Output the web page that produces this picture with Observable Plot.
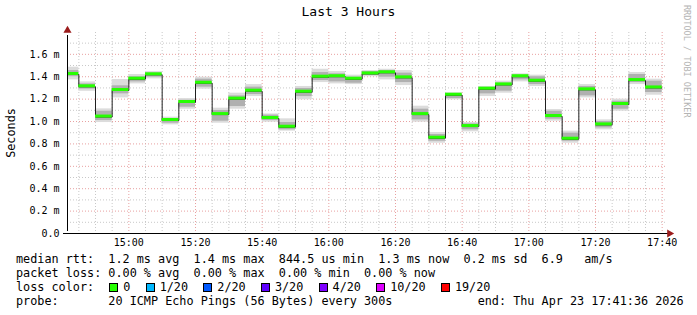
<!DOCTYPE html>
<html>
<head>
<meta charset="utf-8">
<script src="https://cdn.jsdelivr.net/npm/d3@7"></script>
<script src="https://cdn.jsdelivr.net/npm/@observablehq/plot@0.6"></script>
<style>
  html, body { margin: 0; padding: 0; background: #fff; }
  #wrap { position: relative; width: 697px; height: 315px; font-family: "DejaVu Sans Mono", monospace; color: #000; overflow: hidden; }
  #title { position: absolute; left: 0; top: 4px; width: 697px; text-align: center; font-size: 13px; line-height: 16px; }
  #chart { position: absolute; left: 0; top: 0; }
  #ylabel { position: absolute; left: 11px; top: 133px; font-size: 11.8px; transform: translate(-50%, -50%) rotate(-90deg); white-space: pre; }
  #credit { position: absolute; left: 682px; top: 5px; font-size: 8.5px; color: #b4b4b4; writing-mode: vertical-rl; white-space: pre; }
  #legend { position: absolute; left: 16px; top: 252px; font-size: 11.8px; line-height: 14px; white-space: pre; }
  .sq { display: inline-block; width: 7px; height: 7px; border: 1px solid #000; margin-left: 1px; margin-right: 5px; vertical-align: -1px; }
</style>
</head>
<body>
<div id="wrap">
  <div id="title"></div>
  <div id="chart"></div>
  <div id="ylabel"></div>
  <div id="credit"></div>
  <div id="legend"></div>
</div>
<script>
// ---- data ----
const titleText = "Last 3 Hours";
const yLabel = "Seconds";
const creditText = "RRDTOOL / TOBI OETIKER";
const day = [2026, 3, 23];            // Thu Apr 23 2026
const windowStart = "14:41:36";
const windowEnd = "17:41:36";
const stepStarts = ["14:40","14:45","14:50","14:55","15:00","15:05","15:10","15:15","15:20","15:25","15:30","15:35",
                    "15:40","15:45","15:50","15:55","16:00","16:05","16:10","16:15","16:20","16:25","16:30","16:35",
                    "16:40","16:45","16:50","16:55","17:00","17:05","17:10","17:15","17:20","17:25","17:30","17:35"];
const lastStepEnd = "17:40";
// median rtt (ms)
const median  = [1.42,1.31,1.04,1.277,1.378,1.417,1.009,1.17,1.342,1.062,1.20,1.271,
                 1.027,0.949,1.262,1.396,1.40,1.378,1.425,1.435,1.39,1.062,0.851,1.235,
                 0.955,1.289,1.327,1.40,1.36,1.045,0.842,1.283,0.97,1.152,1.366,1.30];
// smoke: outer extent (lightest) and inner extent (darker)
const outerHi = [1.485,1.354,1.113,1.375,1.42,1.446,1.039,1.205,1.396,1.119,1.253,1.33,
                 1.068,1.024,1.313,1.467,1.446,1.414,1.455,1.467,1.455,1.137,0.902,1.256,
                 0.991,1.313,1.36,1.426,1.414,1.107,0.914,1.33,1.015,1.20,1.438,1.378];
const outerLo = [1.372,1.27,0.991,1.211,1.336,1.381,0.97,1.11,1.289,0.985,1.11,1.223,
                 0.994,0.914,1.194,1.348,1.336,1.33,1.40,1.372,1.321,0.994,0.806,1.194,
                 0.908,1.223,1.253,1.354,1.313,1.003,0.806,1.211,0.926,1.092,1.33,1.235];
const innerHi = [1.455,1.336,1.092,1.319,1.40,1.434,1.027,1.19,1.378,1.098,1.229,1.307,
                 1.057,0.991,1.295,1.437,1.426,1.396,1.446,1.455,1.432,1.11,0.884,1.247,
                 0.979,1.301,1.342,1.414,1.40,1.092,0.896,1.313,1.0,1.181,1.42,1.36];
const innerLo = [1.40,1.29,1.009,1.247,1.354,1.396,0.985,1.128,1.307,1.003,1.134,1.241,
                 1.009,0.926,1.223,1.366,1.354,1.342,1.411,1.396,1.348,1.015,0.824,1.205,
                 0.926,1.247,1.271,1.372,1.33,1.021,0.824,1.229,0.943,1.11,1.348,1.259];
const yTicks = [0, 0.2, 0.4, 0.6, 0.8, 1.0, 1.2, 1.4, 1.6];
const yMinorGrid = [0.1, 0.3, 0.5, 0.7, 0.9, 1.1, 1.3, 1.5, 1.7];
const yMax = 1.795;
const lossNames  = ["0", "1/20", "2/20", "3/20", "4/20", "10/20", "19/20"];
const lossColors = ["#26ff00", "#00b8ff", "#0059ff", "#5e00ff", "#7e00ff", "#dd00ff", "#ff0000"];
const statsLine  = "median rtt:  1.2 ms avg  1.4 ms max  844.5 us min  1.3 ms now  0.2 ms sd  6.9   am/s";
const lossLine   = "packet loss: 0.00 % avg  0.00 % max  0.00 % min  0.00 % now";
const probeLine  = "probe:       20 ICMP Echo Pings (56 Bytes) every 300s            end: Thu Apr 23 17:41:36 2026";

// ---- build ----
function t(s) {
  const [h, m, sec] = s.split(":").map(Number);
  return new Date(Date.UTC(day[0], day[1], day[2], h, m, sec || 0));
}
const x0 = t(windowStart), x1 = t(windowEnd);
const rows = stepStarts.map((s, i) => ({
  start: t(s),
  end: t(i < stepStarts.length - 1 ? stepStarts[i + 1] : lastStepEnd),
  med: median[i], oHi: outerHi[i], oLo: outerLo[i], iHi: innerHi[i], iLo: innerLo[i]
}));
const linePts = rows.map(r => ({x: r.start, y: r.med}));
linePts.push({x: rows[rows.length - 1].end, y: rows[rows.length - 1].med});

const every5 = d3.utcMinute.every(5).range(x0, x1);
const every20 = d3.utcMinute.every(20).range(x0, x1);
const major = new Set(every20.map(d => +d));
const minorX = every5.filter(d => !major.has(+d));

const plot = Plot.plot({
  width: 697,
  height: 255,
  marginTop: 32,
  marginBottom: 22,
  marginLeft: 67,
  marginRight: 30,
  style: {fontFamily: "'DejaVu Sans Mono', monospace", fontSize: "10px", color: "#000", background: "transparent"},
  x: {type: "utc", domain: [x0, x1]},
  y: {domain: [0, yMax]},
  marks: [
    Plot.gridY(yMinorGrid, {stroke: "#c8c8c8", strokeOpacity: 1, strokeDasharray: "1,2"}),
    Plot.gridX(minorX, {stroke: "#c8c8c8", strokeOpacity: 1, strokeDasharray: "1,2"}),
    Plot.gridY(yTicks.filter(d => d > 0), {stroke: "#e8a0a0", strokeOpacity: 1, strokeDasharray: "1,2"}),
    Plot.gridX(every20, {stroke: "#e8a0a0", strokeOpacity: 1, strokeDasharray: "1,2"}),
    Plot.rect(rows, {x1: "start", x2: "end", y1: "oLo", y2: "oHi", fill: "#dcdcdc", clip: true}),
    Plot.rect(rows, {x1: "start", x2: "end", y1: "iLo", y2: "iHi", fill: "#b0b0b0", clip: true}),
    Plot.line(linePts, {x: "x", y: "y", curve: "step-after", stroke: "#202020", strokeWidth: 1, clip: true}),
    Plot.ruleY(rows, {x1: "start", x2: "end", y: "med", stroke: lossColors[0], strokeWidth: 3, dy: -1, clip: true}),
    Plot.ruleY([0], {stroke: "#000", insetLeft: -4, insetRight: -2}),
    Plot.ruleX([x0], {stroke: "#000", y1: 0, y2: yMax, insetTop: -2, insetBottom: -3}),
    Plot.dot([{x: x0, y: yMax}], {x: "x", y: "y", symbol: "triangle", r: 3, fill: "#9b1c1c", stroke: null, dy: -2}),
    Plot.dot([{x: x1, y: 0}], {x: "x", y: "y", symbol: "triangle", r: 3, fill: "#9b1c1c", stroke: null, rotate: 90, dx: 2}),
    Plot.axisY({ticks: yTicks, tickFormat: d => d === 0 ? "0.0" : d.toFixed(1) + " m", tickSize: 0, tickPadding: 8, label: null}),
    Plot.axisX({ticks: every20, tickFormat: d3.utcFormat("%H:%M"), tickSize: 0, tickPadding: 5, label: null})
  ]
});
document.getElementById("chart").appendChild(plot);

document.getElementById("title").textContent = titleText;
document.getElementById("ylabel").textContent = yLabel;
document.getElementById("credit").textContent = creditText;

const legend = document.getElementById("legend");
function line(text) { const d = document.createElement("div"); d.textContent = text; legend.appendChild(d); return d; }
line(statsLine);
line(lossLine);
const lc = document.createElement("div");
lc.appendChild(document.createTextNode("loss color:  "));
lossNames.forEach((n, i) => {
  const sq = document.createElement("span");
  sq.className = "sq";
  sq.style.background = lossColors[i];
  lc.appendChild(sq);
  lc.appendChild(document.createTextNode(n + (i < lossNames.length - 1 ? "  " : "")));
});
legend.appendChild(lc);
line(probeLine);
</script>
</body>
</html>
